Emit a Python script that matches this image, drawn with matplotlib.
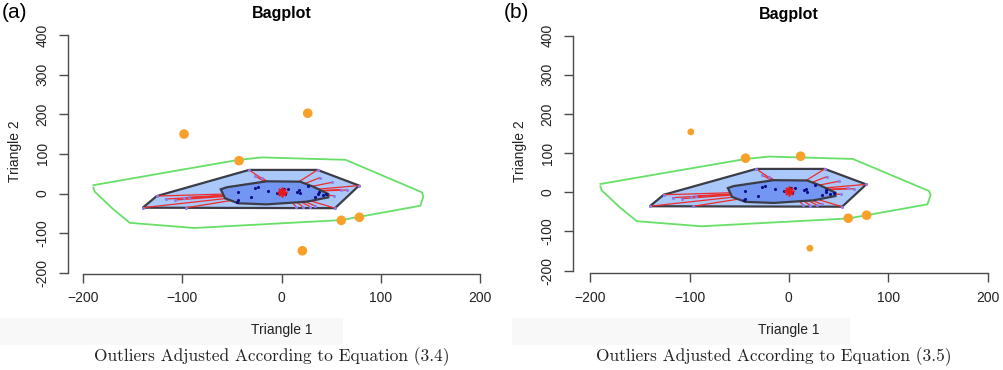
import numpy as np
import matplotlib
matplotlib.use("Agg")
import matplotlib.pyplot as plt
from matplotlib.patches import Polygon, Rectangle

plt.rcParams['font.family'] = ['Liberation Sans', 'DejaVu Sans']

# data (Triangle 1 / Triangle 2 coordinates)
fence_x = [-189.7, -188.5, -170.0, -153.0, -88.0, 60.0, 139.5, 142.7, 141.2, 64.3, -20.0, -44.5, -189.7]
fence_y = [14.5, 5.0, -39.0, -74.0, -87.0, -67.0, -31.0, -7.5, 3.0, 85.0, 91.0, 84.5, 21.0]

loop_hull_x = [-140.0, -125.9, -32.9, 36.1, 77.9, 53.7]
loop_hull_y = [-35.8, -6.5, 59.5, 59.5, 20.0, -37.0]

bag_hull_x = [-61.4, -57.1, -43.7, -15.1, 25.2, 46.9, 46.9, 31.8, 18.4, -15.1, -55.4]
bag_hull_y = [10.6, -12.0, -24.7, -27.4, -20.6, -9.7, -1.3, 17.2, 29.9, 30.8, 15.7]

median_xy = (0.5, 3.0)

bag_pts_x = [-43.7, -43.7, -45.0, -30.9, -26.9, -23.6, -14.1, -5.0, -1.7, 2.3, 3.3,
             6.6, 15.1, 17.4, 18.4, 26.8, 33.5, 37.0, 37.6, 41.9, 45.0]
bag_pts_y = [3.0, -17.0, -20.7, -9.7, 13.0, 15.6, 7.2, 2.0, 8.8, 10.6, -1.3,
             10.6, 4.6, 8.8, 1.0, 18.9, -8.0, 0.0, 4.6, -3.8, -1.3]

loop_pts_x = [-140.0, -125.9, -107.4, -98.4, -93.4, -96.0, -117.0, -32.9, -26.9, -20.0,
              36.1, 38.6, 50.4, 65.5, 77.9, 53.7, 53.0, 14.4, 21.8, 28.5, 33.5, 60.0]
loop_pts_y = [-35.8, -6.5, -16.4, -11.4, -9.6, -35.8, -14.0, 59.5, 44.2, 40.0,
              59.5, 40.0, 28.0, 8.8, 20.0, -37.0, -5.6, -33.0, -34.0, -33.0, -31.0, 10.0]

# outliers, panel (a): Eq. (3.4)
out_a_x = [26.2, -98.4, -43.0, 60.0, 78.2, 20.8]
out_a_y = [202.5, 150.0, 82.8, -67.7, -60.0, -144.4]

# outliers, panel (b): Eq. (3.5); far = not pulled back to the fence
out_b_x = [-98.7, -43.6, 11.8, 59.8, 78.3, 21.2]
out_b_y = [154.0, 86.8, 91.9, -66.4, -58.7, -143.0]
out_b_far = [True, False, False, False, False, True]

x_ticks = [-200, -100, 0, 100, 200]
y_ticks = [-200, -100, 0, 100, 200, 300, 400]


def bagplot(ax, out_x, out_y, out_small):
  # loop hull
  ax.add_patch(Polygon(np.column_stack([loop_hull_x, loop_hull_y]), closed=True,
                       facecolor='#aac8fa', edgecolor='#3c3c46', lw=1.6, zorder=1))
  # spokes from loop points to the median, covered by the bag afterwards
  for px, py in zip(loop_pts_x, loop_pts_y):
    ax.plot([px, median_xy[0]], [py, median_xy[1]], color='#ee2b2b', lw=0.9, zorder=2)
  ax.scatter(loop_pts_x, loop_pts_y, s=5, color='#8a7cf0', zorder=3, linewidths=0)
  # bag
  ax.add_patch(Polygon(np.column_stack([bag_hull_x, bag_hull_y]), closed=True,
                       facecolor='#7296f2', edgecolor='#3c3c46', lw=1.6, zorder=4))
  ax.scatter(bag_pts_x, bag_pts_y, s=5, color='#0c0c88', zorder=5, linewidths=0)
  ax.plot(*median_xy, marker=(8, 2, 0), color='#e81818', ms=7, mew=1.2, zorder=6)
  # fence
  ax.plot(fence_x, fence_y, color='#66e066', lw=1.3, solid_joinstyle='round', zorder=1)
  # outliers
  sizes = [24 if sm else 48 for sm in out_small]
  ax.scatter(out_x, out_y, s=sizes, color='#f7a02a', zorder=7, linewidths=0)

  for side in ['top', 'right']:
    ax.spines[side].set_visible(False)
  for side in ['left', 'bottom']:
    ax.spines[side].set_color('#4a4a4a')
    ax.spines[side].set_linewidth(1.0)
  ax.spines['left'].set_bounds(y_ticks[0], y_ticks[-1])
  ax.spines['bottom'].set_bounds(x_ticks[0], x_ticks[-1])
  ax.set_xticks(x_ticks)
  ax.set_yticks(y_ticks)
  ax.set_yticklabels([str(v) for v in y_ticks], rotation=90, va='center')
  ax.tick_params(axis='both', length=6.5, width=1.0, color='#4a4a4a',
                 labelsize=10, labelcolor='#222222')
  ax.tick_params(axis='x', pad=6)
  ax.tick_params(axis='y', pad=7)
  ax.set_xlabel('Triangle 1', fontsize=10, labelpad=13, color='#222222')
  ax.set_ylabel('Triangle 2', fontsize=10, labelpad=10, color='#222222')
  ax.set_title('Bagplot', fontsize=11.5, fontweight='bold', pad=8)


fig = plt.figure(figsize=(10.04, 3.70), dpi=100)

# faint scan bands behind the axis titles
fig.patches.append(Rectangle((0, 25 / 370), 343 / 1004, 27 / 370, transform=fig.transFigure,
                             facecolor='#f8f8f8', edgecolor='none', zorder=-5))
fig.patches.append(Rectangle((512 / 1004, 25 / 370), 338 / 1004, 27 / 370, transform=fig.transFigure,
                             facecolor='#f8f8f8', edgecolor='none', zorder=-5))

ax1 = fig.add_axes([0.068, 0.2595, 0.4252, 0.6622])
ax1.set_xlim(-215, 215)
ax1.set_ylim(-203, 415)
ax1.patch.set_alpha(0)
bagplot(ax1, out_a_x, out_a_y, [False] * len(out_a_x))

ax2 = fig.add_axes([0.571, 0.2614, 0.4294, 0.6584])
ax2.set_xlim(-217, 217)
ax2.set_ylim(-207, 415)
ax2.patch.set_alpha(0)
bagplot(ax2, out_b_x, out_b_y, out_b_far)

fig.text(15 / 1004, 1 - 12 / 370, '(a)', fontsize=15, ha='center', va='center')
fig.text(516 / 1004, 1 - 12 / 370, '(b)', fontsize=15, ha='center', va='center')

fig.text(272 / 1004, 1 - 357 / 370, 'Outliers Adjusted According to Equation (3.4)',
         family='cmr10', fontsize=12.5, ha='center', va='center', color='#222222')
fig.text(774 / 1004, 1 - 357 / 370, 'Outliers Adjusted According to Equation (3.5)',
         family='cmr10', fontsize=12.5, ha='center', va='center', color='#222222')

fig.savefig('out.png', dpi=100)
